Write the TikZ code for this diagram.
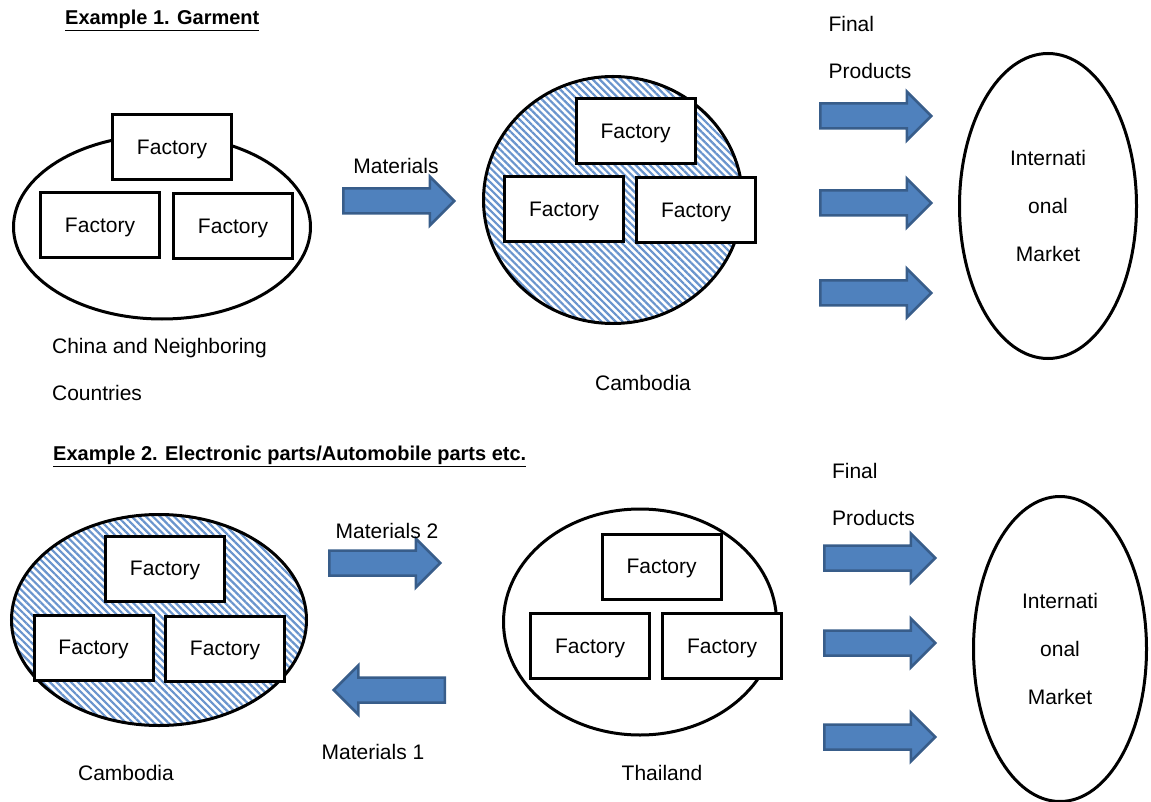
\documentclass[tikz,border=0pt]{standalone}
\usepackage{fontspec}
\setmainfont{Liberation Sans}
\usetikzlibrary{shapes.geometric,shapes.arrows,patterns.meta}
\definecolor{arrowfill}{RGB}{79,129,189}
\definecolor{arrowline}{RGB}{56,93,138}
\definecolor{hatchblue}{RGB}{105,148,205}
\tikzset{%
  % Specifications for style of nodes:
   region/.style = {ellipse, draw=black, line width=3pt, inner sep=0pt},
   hatched/.style = {region,
                  pattern={Lines[angle=-45, distance=5pt, line width=2.2pt]},
                  pattern color=hatchblue},
   market/.style = {region, fill=white, align=center,
                  font=\fontsize{21}{48}\selectfont},
   factory/.style = {rectangle, draw=black, line width=3pt, fill=white,
                  minimum width=119pt, minimum height=65pt, inner sep=0pt,
                  text depth=0pt},
   caption/.style = {align=left, inner sep=0pt,
                  font=\fontsize{21}{47}\selectfont},
   heading/.style = {anchor=west, inner sep=0pt,
                  font=\fontsize{20}{24}\selectfont\bfseries},
  % Specifications for style of block arrows:
   flow/.style = {single arrow, draw=arrowline, fill=arrowfill,
                  line width=2.5pt, inner xsep=0pt, inner ysep=11.25pt,
                  minimum height=111pt, minimum width=46pt,
                  single arrow head extend=12pt},
   backflow/.style = {flow, shape border rotate=180},
}

\begin{document}
\begin{tikzpicture}[x=1pt, y=-1pt, font=\fontsize{21}{25}\selectfont]
  \useasboundingbox (0,0) rectangle (1151,802);

  % Example 1: garment
  \node (title1) [heading] at (65,20) {\underline{Example 1. Garment}};

  \node (china) [region, minimum width=297pt, minimum height=184pt] at (162,227) {};
  \node (chinaA) [factory] at (172,147) {Factory};
  \node (chinaB) [factory] at (100,225.5) {Factory};
  \node (chinaC) [factory] at (233,226) {Factory};
  \node (chinaname) [caption] at (159.5,369.5) {China and Neighboring\\Countries};

  \node (mat) [flow] at (392.5,201) {};
  \node (matname) at (396,166) {Materials};

  \node (camb) [hatched, minimum width=259pt, minimum height=247pt] at (613,200) {};
  \node (cambA) [factory] at (635.5,131) {Factory};
  \node (cambB) [factory] at (564,209.5) {Factory};
  \node (cambC) [factory] at (696,210) {Factory};
  \node (cambname) at (643,383) {Cambodia};

  \node (prodname) [caption] at (870,47.5) {Final\\Products};
  \node (prodA) [flow] at (869.5,116) {};
  \node (prodB) [flow] at (869.5,203) {};
  \node (prodC) [flow] at (869.5,293) {};

  \node (market) [market, minimum width=177pt, minimum height=305pt] at (1048,206) {Internati\\onal\\Market};

  % Example 2: electronic / automobile parts
  \node (title2) [heading] at (53,456) {\underline{Example 2. Electronic parts/Automobile parts etc.}};

  \node (cambo) [hatched, minimum width=295pt, minimum height=211pt] at (159,620) {};
  \node (camboA) [factory] at (165,568.5) {Factory};
  \node (camboB) [factory] at (93.5,647.5) {Factory};
  \node (camboC) [factory] at (225,648.5) {Factory};
  \node (camboname) at (126,773) {Cambodia};

  \node (matB) [flow] at (378.5,563) {};
  \node (matBname) at (387,531) {Materials 2};
  \node (matA) [backflow] at (395.5,690) {};
  \node (matAname) at (373,752) {Materials 1};

  \node (thai) [region, minimum width=273pt, minimum height=226pt] at (640,622) {};
  \node (thaiA) [factory] at (661.5,566.5) {Factory};
  \node (thaiB) [factory] at (590,646) {Factory};
  \node (thaiC) [factory] at (722,646) {Factory};
  \node (thainame) at (662,773) {Thailand};

  \node (prodname2) [caption] at (873.5,494) {Final\\Products};
  \node (prodD) [flow] at (873.5,558) {};
  \node (prodE) [flow] at (873.5,643) {};
  \node (prodF) [flow] at (873.5,737) {};

  \node (market2) [market, minimum width=173pt, minimum height=305pt] at (1060,649) {Internati\\onal\\Market};

\end{tikzpicture}
\end{document}
